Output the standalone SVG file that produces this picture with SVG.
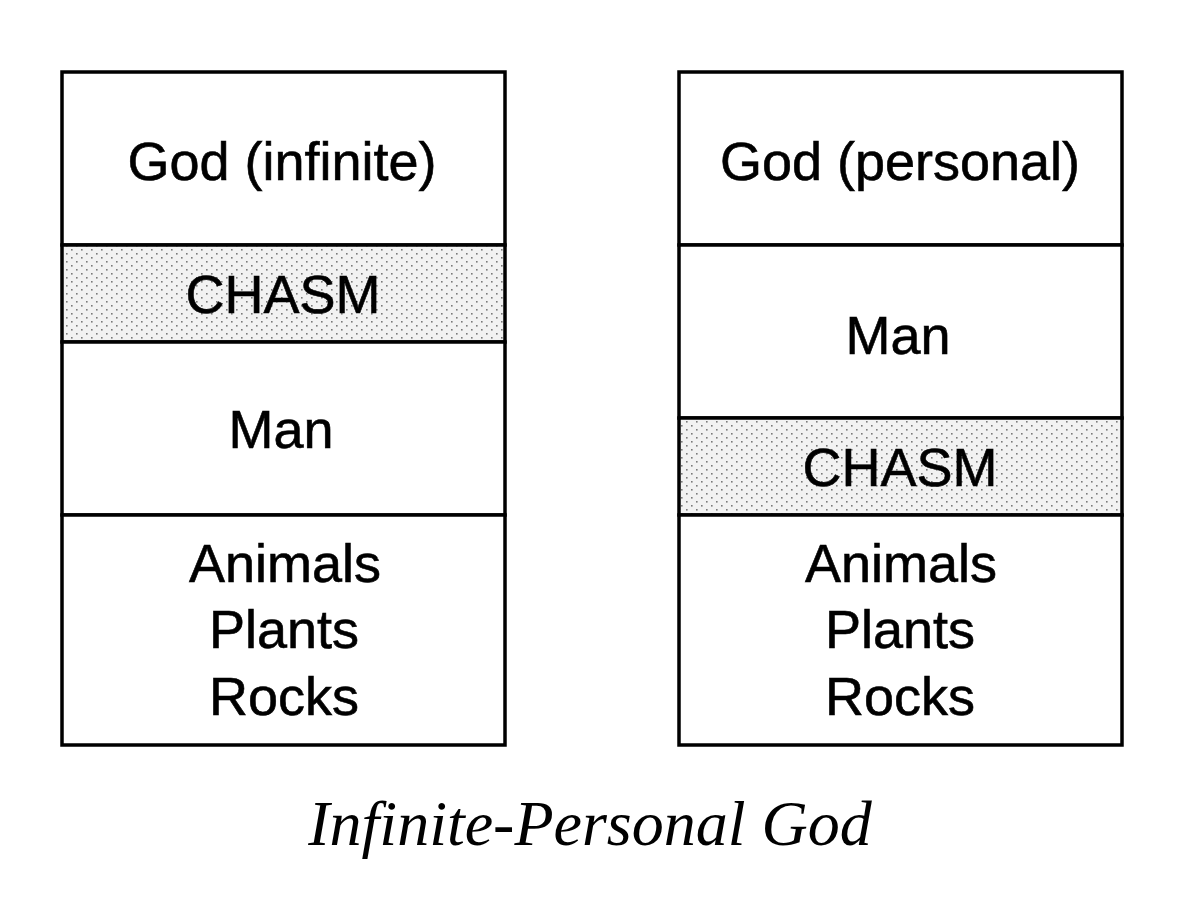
<svg xmlns="http://www.w3.org/2000/svg" width="1190" height="920" viewBox="0 0 1190 920">
<defs>
<pattern id="dots2" width="10" height="8" patternUnits="userSpaceOnUse">
<rect width="10" height="8" fill="#f2f2f2"/>
<rect x="1" y="1" width="1.6" height="1.6" fill="#7a7a7a"/>
<rect x="6" y="5" width="1.6" height="1.6" fill="#7a7a7a"/>
</pattern>
<style>
.box{fill:#fff;stroke:#000;stroke-width:3.5}
.chasm{fill:url(#dots2);stroke:#000;stroke-width:3.5}
.lbl{font-family:"Liberation Sans",Arial,sans-serif;font-size:54px;text-anchor:middle;fill:#000;stroke:#000;stroke-width:0.6}
.title{font-family:"Liberation Serif","Times New Roman",serif;font-style:italic;font-size:64px;text-anchor:middle;fill:#000}
</style>
</defs>
<rect width="1190" height="920" fill="#fff"/>
<g id="left">
<g id="left-god"><rect class="box" x="62" y="72" width="443" height="173"/><text class="lbl" x="282" y="180">God (infinite)</text></g>
<g id="left-chasm"><rect class="chasm" x="62" y="245" width="443" height="97"/><text class="lbl" x="283" y="313">CHASM</text></g>
<g id="left-man"><rect class="box" x="62" y="342" width="443" height="173"/><text class="lbl" x="281" y="448">Man</text></g>
<g id="left-nature"><rect class="box" x="62" y="515" width="443" height="230"/><text class="lbl" x="285" y="582">Animals</text><text class="lbl" x="284" y="648">Plants</text><text class="lbl" x="284" y="715">Rocks</text></g>
</g>
<g id="right">
<g id="right-god"><rect class="box" x="679" y="72" width="443" height="173"/><text class="lbl" x="900" y="180">God (personal)</text></g>
<g id="right-man"><rect class="box" x="679" y="245" width="443" height="173"/><text class="lbl" x="898" y="354">Man</text></g>
<g id="right-chasm"><rect class="chasm" x="679" y="418" width="443" height="97"/><text class="lbl" x="900" y="486">CHASM</text></g>
<g id="right-nature"><rect class="box" x="679" y="515" width="443" height="230"/><text class="lbl" x="901" y="582">Animals</text><text class="lbl" x="900" y="648">Plants</text><text class="lbl" x="900" y="715">Rocks</text></g>
</g>
<g id="connectors"></g>
<text class="title" x="590" y="845">Infinite-Personal God</text>
</svg>
